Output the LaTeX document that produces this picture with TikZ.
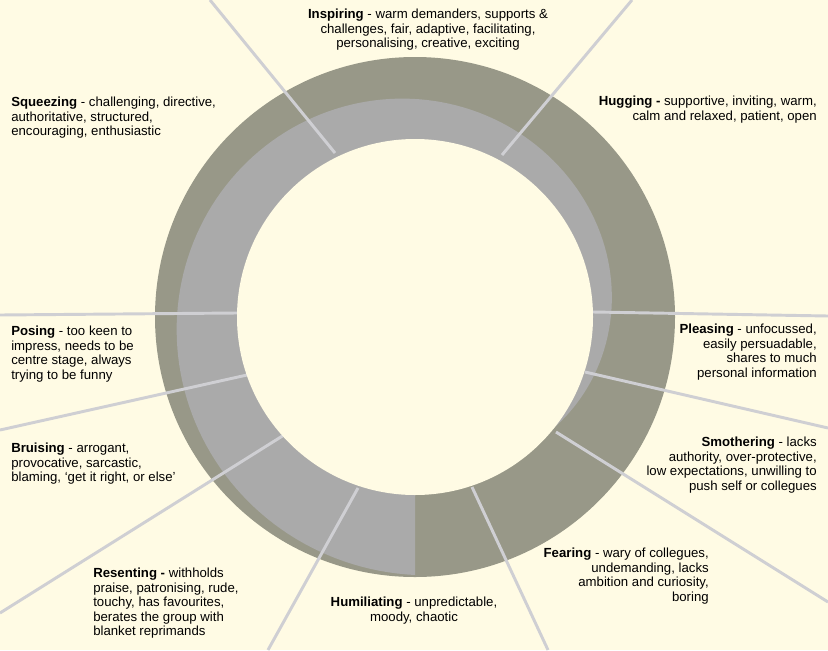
\documentclass[tikz,border=0pt]{standalone}
\usepackage{fontspec}
\setmainfont{Liberation Sans}
\usepackage{tikz}
\usetikzlibrary{positioning}
\usepackage{xcolor}
\definecolor{cream}{HTML}{FFFBE4}
\definecolor{ringdark}{HTML}{989888}
\definecolor{ringlight}{HTML}{AAAAAA}
\definecolor{spokegrey}{HTML}{CFCFD3}
\tikzset{
  desc/.style   = {inner sep=0pt, font=\fontsize{9.9}{10.8}\selectfont},
  descl/.style  = {desc, anchor=north west, align=left},
  descr/.style  = {desc, anchor=north east, align=right},
  descc/.style  = {desc, anchor=north, align=center},
  spokeline/.style = {draw=spokegrey, line width=2.2pt},
}

\begin{document}
\begin{tikzpicture}[x=0.75pt,y=-0.75pt,
  declare function={rlight(\t)=258-0.222*\t-0.00251*max(0,\t-240)^2;}]
\useasboundingbox (0,0) rectangle (828,650);
\fill[cream] (0,0) rectangle (828,650);
\clip (0,0) rectangle (828,650);
% rings
\fill[ringdark] (415,317) circle[radius=195pt];
\fill[ringlight] (415,317) -- plot[domain=0:320, samples=160, variable=\t]
  ({415+rlight(\t)*cos(270-\t)}, {317-rlight(\t)*sin(270-\t)}) -- cycle;
% dividers
\foreach \a/\b in {{(335,153)}/{(210,0)}, {(502,155)}/{(632,0)},
                   {(593,312)}/{(828,316)}, {(585,372)}/{(828,428)},
                   {(556,432)}/{(828,602)}, {(472,487)}/{(548,650)},
                   {(358,488)}/{(268,650)}, {(284,435)}/{(0,613)},
                   {(247,375)}/{(0,430)}, {(237,313)}/{(0,315)}}
  \draw[spokeline] \a -- \b;
\fill[cream] (415,317) circle[radius=133.5pt];
% descriptions
\node[descc] (inspiring) at (428,9)
  {\textbf{Inspiring} - warm demanders, supports \&\\challenges, fair, adaptive, facilitating,\\personalising, creative, exciting};
\node[descr] (hugging) at (817,96)
  {\textbf{Hugging -} supportive, inviting, warm,\\calm and relaxed, patient, open};
\node[descl] (squeezing) at (11,97)
  {\textbf{Squeezing} - challenging, directive,\\authoritative, structured,\\encouraging, enthusiastic};
\node[descl] (posing) at (11,326)
  {\textbf{Posing} - too keen to\\impress, needs to be\\centre stage, always\\trying to be funny};
\node[descr] (pleasing) at (817,324)
  {\textbf{Pleasing} - unfocussed,\\easily persuadable,\\shares to much\\personal information};
\node[descl] (bruising) at (11,443)
  {\textbf{Bruising} - arrogant,\\provocative, sarcastic,\\blaming, `get it right, or else'};
\node[descr] (smothering) at (817,437)
  {\textbf{Smothering} - lacks\\authority, over-protective,\\low expectations, unwilling to\\push self or collegues};
\node[descr] (fearing) at (709,548)
  {\textbf{Fearing} - wary of collegues,\\undemanding, lacks\\ambition and curiosity,\\boring};
\node[descc] (humiliating) at (414,597)
  {\textbf{Humiliating} - unpredictable,\\moody, chaotic};
\node[descl] (resenting) at (93,568)
  {\textbf{Resenting -} withholds\\praise, patronising, rude,\\touchy, has favourites,\\berates the group with\\blanket reprimands};
\end{tikzpicture}
\end{document}
